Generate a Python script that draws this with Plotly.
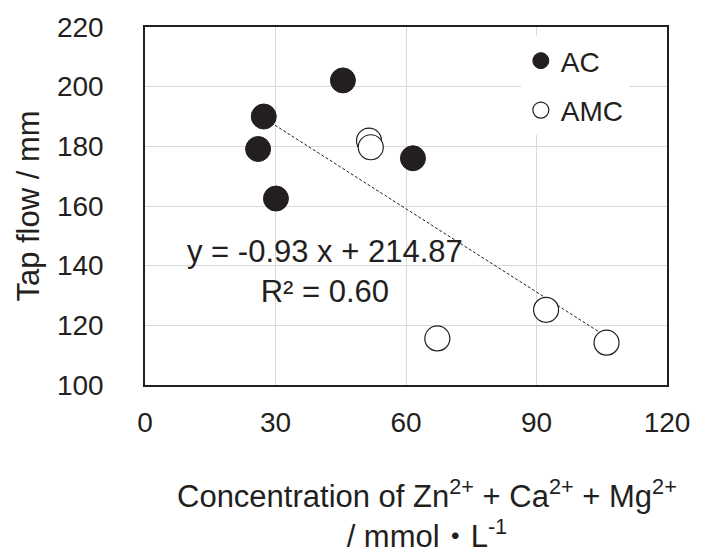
import numpy as np
import plotly.graph_objects as go

# ---- data ----
ac_x = [27.3, 26.0, 30.1, 45.5, 61.6]
ac_y = [190.0, 179.1, 162.5, 202.1, 176.0]
amc_x = [51.5, 51.9, 67.2, 92.2, 106.1]
amc_y = [181.9, 179.7, 115.6, 125.2, 114.2]
slope = -0.93
intercept = 214.87
r2 = 0.60
x_ticks = [0, 30, 60, 90, 120]
y_ticks = [100, 120, 140, 160, 180, 200, 220]

INK = "#231f20"
FONT = "Liberation Sans, Arial, Noto Sans CJK JP, sans-serif"
FS = 28
FT = 31

all_x = ac_x + amc_x
tx = np.array([min(all_x), max(all_x)])
ty = slope * tx + intercept

fig = go.Figure()
fig.add_trace(go.Scatter(x=tx, y=ty, mode="lines", showlegend=False,
                         line=dict(color=INK, width=1, dash="3px,2px"),
                         hoverinfo="skip"))
fig.add_trace(go.Scatter(x=ac_x, y=ac_y, mode="markers", name="AC",
                         legendgroup="ac",
                         marker=dict(size=25, color=INK,
                                     line=dict(color=INK, width=1))))
fig.add_trace(go.Scatter(x=amc_x, y=amc_y, mode="markers", name="AMC",
                         legendgroup="amc",
                         marker=dict(size=25, color="white",
                                     line=dict(color=INK, width=1.2))))

fig.add_annotation(x=41.4, y=138, xref="x", yref="y",
                   text=f"y = {slope:.2f} x + {intercept:.2f}<br>R² = {r2:.2f}",
                   showarrow=False, align="center",
                   font=dict(size=FT, color=INK, family=FONT))

fig.add_annotation(x=0.54, y=-0.36, xref="paper", yref="paper",
                   xanchor="center", yanchor="middle",
                   text="Concentration of Zn<sup>2+</sup> + Ca<sup>2+</sup> + Mg<sup>2+</sup><br>/ mmol・L<sup>-1</sup>",
                   showarrow=False, align="center",
                   font=dict(size=FT, color=INK, family=FONT))

fig.update_layout(
    width=702, height=555,
    margin=dict(l=145, r=30, t=22, b=170),
    paper_bgcolor="white", plot_bgcolor="white",
    font=dict(family=FONT, size=FS, color=INK),
    showlegend=True,
    legend=dict(x=0.72, y=0.975, xanchor="left", yanchor="top",
                bgcolor="white", borderwidth=0,
                font=dict(size=FS, color=INK, family=FONT),
                traceorder="grouped", tracegroupgap=10),
    xaxis=dict(range=[0, 120], tickvals=x_ticks, showgrid=True,
               gridcolor="#d9d9d9", gridwidth=1, zeroline=False,
               showline=True, linecolor=INK, linewidth=1.5, mirror=True,
               ticks="", ticklabelstandoff=12,
               tickfont=dict(size=FS, color=INK)),
    yaxis=dict(range=[100, 220], tickvals=y_ticks, showgrid=True,
               gridcolor="#d9d9d9", gridwidth=1, zeroline=False,
               showline=True, linecolor=INK, linewidth=1.5, mirror=True,
               ticks="", ticklabelstandoff=34,
               tickfont=dict(size=FS, color=INK),
               title=dict(text="Tap flow / mm", standoff=8,
                          font=dict(size=FT, color=INK))),
)

fig.write_html("out.html")
